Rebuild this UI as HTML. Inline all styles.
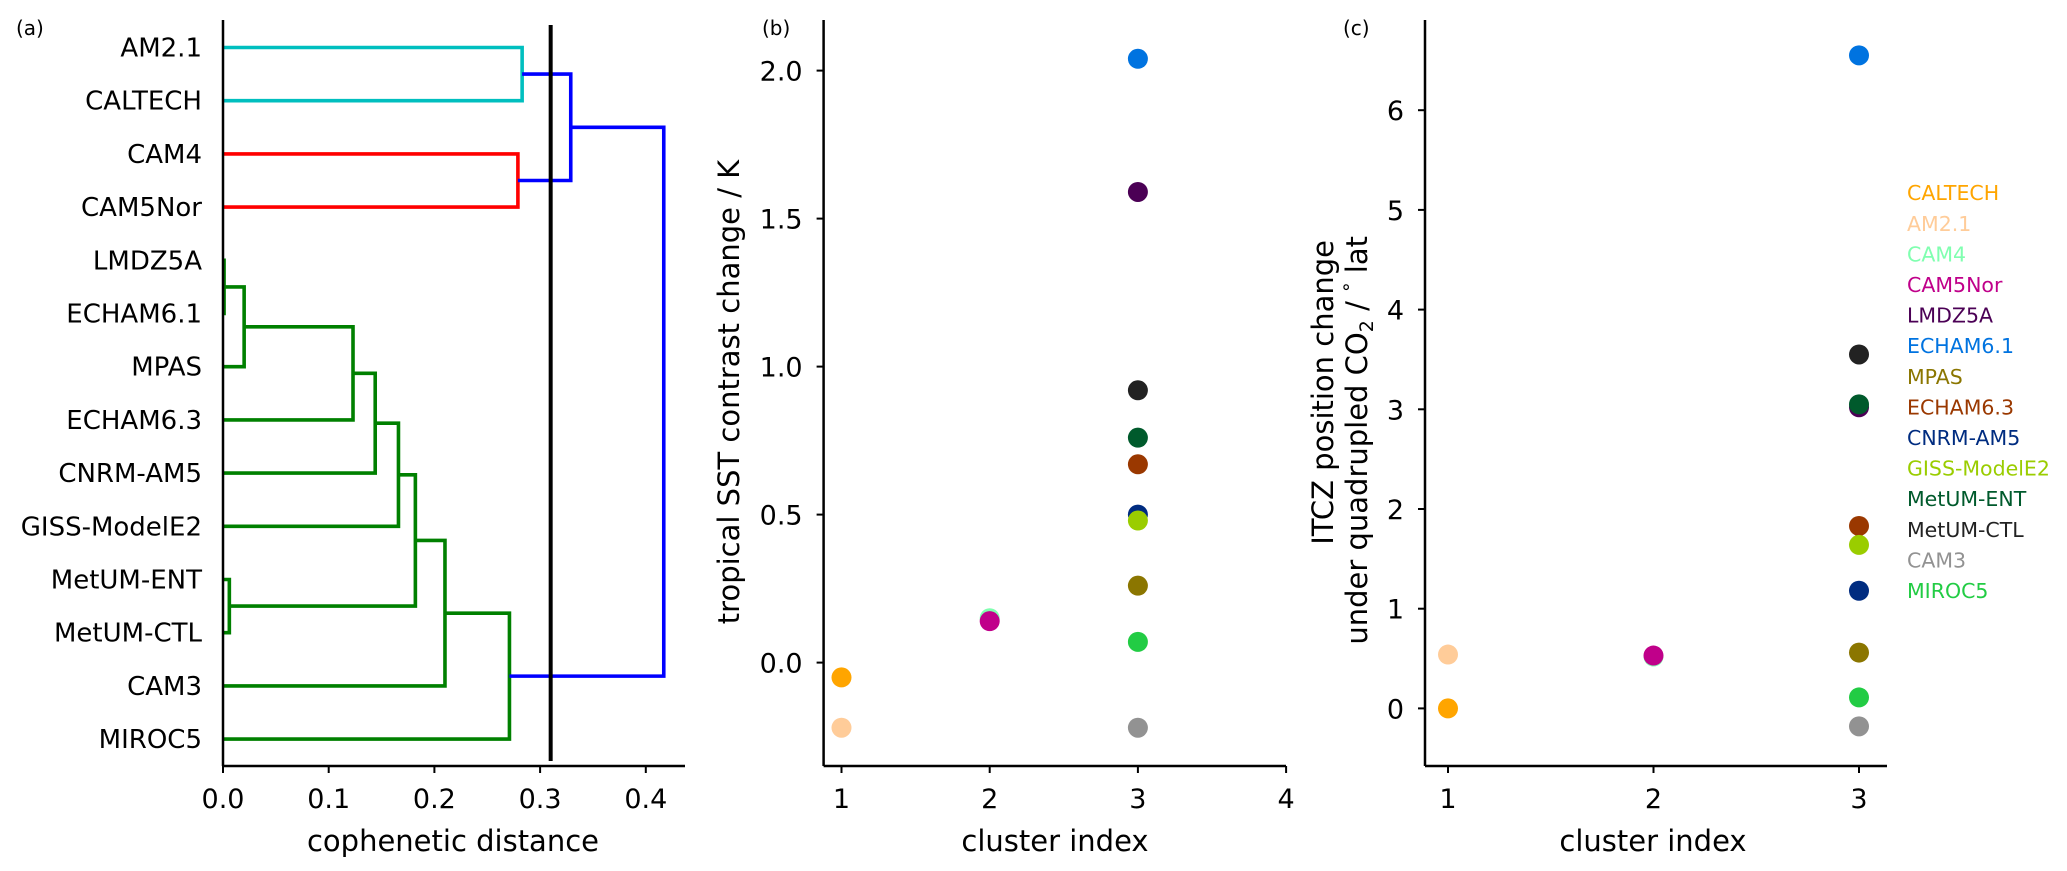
<!DOCTYPE html>
<html><head><meta charset="utf-8"><style>
html,body{margin:0;padding:0;background:#fff;}
svg{display:block;font-family:"DejaVu Sans","Liberation Sans",sans-serif;}
</style></head><body>
<svg id="fig" width="2067" height="871" viewBox="0 0 2067 871" xmlns="http://www.w3.org/2000/svg"></svg>
<script>
// ---------- data ----------
const leafLabels = ["AM2.1","CALTECH","CAM4","CAM5Nor","LMDZ5A","ECHAM6.1","MPAS","ECHAM6.3","CNRM-AM5","GISS-ModelE2","MetUM-ENT","MetUM-CTL","CAM3","MIROC5"];
const linkPairs = [
  [0,1],[2,3],[4,5],["m2",6],["m3",7],["m4",8],["m5",9],[10,11],["m6","m7"],["m8",12],["m9",13],["m0","m1"],["m11","m10"]
];
const linkDist = [0.283,0.279,0.001,0.020,0.123,0.144,0.166,0.006,0.182,0.210,0.271,0.329,0.417];
const linkColor = ["#00bfbf","#ff0000","#008000","#008000","#008000","#008000","#008000","#008000","#008000","#008000","#008000","#0000ff","#0000ff"];
const distTicks = [0.0,0.1,0.2,0.3,0.4];
const cutDistance = 0.31;

const models = ["CALTECH","AM2.1","CAM4","CAM5Nor","LMDZ5A","ECHAM6.1","MPAS","ECHAM6.3","CNRM-AM5","GISS-ModelE2","MetUM-ENT","MetUM-CTL","CAM3","MIROC5"];
const modelColors = ["#ffa500","#ffcc99","#80ffb0","#c0008a","#4b0055","#0073e0","#8b7600","#9a3800","#002c80","#9acd00","#005a2c","#222222","#929292","#22cc44"];
const clusterIdx = [1,1,2,2,3,3,3,3,3,3,3,3,3,3];
const sstChange  = [-0.05,-0.22,0.15,0.14,1.59,2.04,0.26,0.67,0.50,0.48,0.76,0.92,-0.22,0.07];
const itczChange = [0.00,0.54,0.52,0.53,3.02,6.55,0.56,1.83,1.18,1.64,3.05,3.55,-0.18,0.11];
const bYTicks = [0.0,0.5,1.0,1.5,2.0];
const bXTicks = [1,2,3,4];
const cYTicks = [0,1,2,3,4,5,6];
const cXTicks = [1,2,3];

// ---------- helpers ----------
const NS="http://www.w3.org/2000/svg";
const svg=document.getElementById('fig');
function mk(tag,attrs,parent){const e=document.createElementNS(NS,tag);for(const k in attrs)e.setAttribute(k,attrs[k]);(parent||svg).appendChild(e);return e;}
function txt(s,attrs,parent){const e=mk('text',attrs,parent);e.textContent=s;return e;}

// ---------- panel a ----------
const ga=mk('g',{});


const ax0=223, axPer=1057, leafY0=47.5, leafDy=53.2, aBottom=766;
const dx=d=>ax0+d*axPer;
const ly=i=>leafY0+i*leafDy;
leafLabels.forEach((m,i)=>{
  const t=txt(m,{x:202,y:ly(i)+9,'font-size':26,'text-anchor':'end',fill:'#000'},ga);
  
  
});
const nodePos={};
function pos(c){return (typeof c==='number')?{y:ly(c),x:dx(0)}:nodePos[c];}
linkPairs.forEach((p,k)=>{
  const a=pos(p[0]), b=pos(p[1]), X=dx(linkDist[k]);
  const path=mk('path',{d:`M${a.x},${a.y}H${X}V${b.y}H${b.x}`,fill:'none',stroke:linkColor[k],'stroke-width':3.6},ga);
  
  
  nodePos['m'+k]={x:X,y:(a.y+b.y)/2};
});
const cut=mk('line',{x1:dx(cutDistance),x2:dx(cutDistance),y1:25,y2:761,stroke:'#000','stroke-width':4},ga);


const aSp=mk('line',{x1:ax0,x2:ax0,y1:20,y2:aBottom,stroke:'#000','stroke-width':2.5},ga);


const aSx=mk('line',{x1:ax0,x2:685,y1:aBottom,y2:aBottom,stroke:'#000','stroke-width':2.5},ga);


distTicks.forEach(v=>{
  const tk=mk('line',{x1:dx(v),x2:dx(v),y1:aBottom,y2:aBottom+7,stroke:'#000','stroke-width':2},ga);
  
  
  const t=txt(v.toFixed(1),{x:dx(v),y:808,'font-size':27,'text-anchor':'middle'},ga);
  
  
});
const axt=txt('cophenetic distance',{x:453,y:851,'font-size':29,'text-anchor':'middle'},ga);


const la=txt('(a)',{x:16,y:35,'font-size':20},ga);



// ---------- scatter panel builder ----------
function scatter(opt){
  const g=mk('g',{});
  
  
  const X=v=>opt.x0+(v-opt.xv0)*opt.xPer;
  const Y=v=>opt.y0-(v-opt.yv0)*opt.yPer;
  const sp=mk('line',{x1:opt.left,x2:opt.left,y1:20,y2:766,stroke:'#000','stroke-width':2.5},g);
  
  
  const sx=mk('line',{x1:opt.left,x2:opt.right,y1:766,y2:766,stroke:'#000','stroke-width':2.5},g);
  
  
  opt.yTicks.forEach(v=>{
    const tk=mk('line',{x1:opt.left-7,x2:opt.left,y1:Y(v),y2:Y(v),stroke:'#000','stroke-width':2},g);
    
    
    const t=txt(opt.yFmt(v),{x:opt.left-21,y:Y(v)+10,'font-size':27,'text-anchor':'end'},g);
    
    
  });
  opt.xTicks.forEach(v=>{
    const tk=mk('line',{x1:X(v),x2:X(v),y1:766,y2:773,stroke:'#000','stroke-width':2},g);
    
    
    const t=txt(String(v),{x:X(v),y:808,'font-size':27,'text-anchor':'middle'},g);
    
    
  });
  const xt=txt('cluster index',{x:opt.xTitleX,y:851,'font-size':29,'text-anchor':'middle'},g);
  
  
  models.forEach((m,i)=>{
    const c=mk('circle',{cx:X(clusterIdx[i]),cy:Y(opt.values[i]),r:10,fill:modelColors[i]},g);
    
    
  });
  return g;
}
const gb=scatter({name:'panel-b-sst-scatter',prefix:'panel-b',left:823.6,right:1286,x0:841.5,xv0:1,xPer:148.2,y0:662.6,yv0:0,yPer:296,
  yTicks:bYTicks,xTicks:bXTicks,yFmt:v=>v.toFixed(1),values:sstChange,xTitleX:1055});
const byt=txt('tropical SST contrast change / K',{x:0,y:0,'font-size':29,'text-anchor':'middle',transform:'translate(739,392) rotate(-90)'},gb);


const lb=txt('(b)',{x:762,y:35,'font-size':20},gb);



const gc=scatter({name:'panel-c-itcz-scatter',prefix:'panel-c',left:1425,right:1887,x0:1448,xv0:1,xPer:205.5,y0:708.4,yv0:0,yPer:99.7,
  yTicks:cYTicks,xTicks:cXTicks,yFmt:v=>String(v),values:itczChange,xTitleX:1653});
const cy1=txt('ITCZ position change',{x:0,y:0,'font-size':29,'text-anchor':'end',transform:'translate(1333,240) rotate(-90)'},gc);


const cy2=mk('text',{x:0,y:0,'font-size':29,'text-anchor':'end',transform:'translate(1367,236) rotate(-90)'},gc);


cy2.innerHTML='under quadrupled CO<tspan font-size="19" dy="6">2</tspan><tspan dy="-6"> / </tspan><tspan font-size="19" dy="-10">°</tspan><tspan dy="10"> lat</tspan>';
const lc=txt('(c)',{x:1343,y:35,'font-size':20},gc);



// legend
const gl=mk('g',{});


models.forEach((m,i)=>{
  const t=txt(m,{x:1907,y:192.7+i*30.6+7.5,'font-size':20.5,fill:modelColors[i]},gl);
  
  
});
</script>
</body></html>
